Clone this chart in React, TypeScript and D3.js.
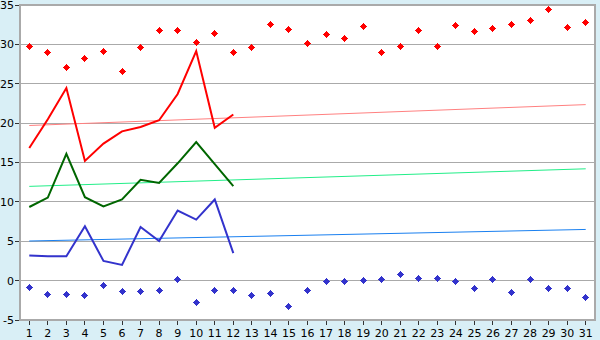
import React from "react";
import * as d3 from "d3";

const days = d3.range(1, 32);
const maxPoints = [29.7, 28.95, 27.05, 28.2, 29.1, 26.5, 29.6, 31.75, 31.75, 30.2, 31.35, 28.95, 29.6, 32.5, 31.9, 30.1, 31.2, 30.7, 32.25, 28.95, 29.7, 31.75, 29.7, 32.4, 31.6, 32.0, 32.5, 33.0, 34.4, 32.1, 32.75];
const minPoints = [-0.9, -1.78, -1.78, -1.9, -0.63, -1.4, -1.4, -1.27, 0.13, -2.8, -1.27, -1.27, -1.9, -1.65, -3.3, -1.27, -0.13, -0.13, 0, 0.13, 0.76, 0.25, 0.25, -0.13, -1.02, 0.13, -1.52, 0.13, -1.02, -1.02, -2.16];
const maxLine = [16.85, 20.5, 24.46, 15.2, 17.4, 18.96, 19.5, 20.36, 23.7, 29.15, 19.4, 21.1];
const meanLine = [9.35, 10.54, 16.1, 10.6, 9.43, 10.3, 12.8, 12.4, 14.9, 17.6, 14.8, 12.0];
const minLine = [3.2, 3.08, 3.1, 6.9, 2.5, 2.0, 6.8, 5.03, 8.9, 7.75, 10.3, 3.5];
const maxTrend = [19.7, 22.35];
const meanTrend = [11.97, 14.2];
const minTrend = [5.03, 6.5];
const yTicks = [-5, 0, 5, 10, 15, 20, 25, 30, 35];

const W = 600, H = 340;
const L = 20, R = 595, T = 5, B = 320;

const markerPath =
  "M-0.5,-3.5L0.5,-3.5L0.5,-1.5L1.5,-1.5L1.5,-0.5L3.5,-0.5L3.5,0.5L1.5,0.5L1.5,1.5L0.5,1.5L0.5,3.5L-0.5,3.5L-0.5,1.5L-1.5,1.5L-1.5,0.5L-3.5,0.5L-3.5,-0.5L-1.5,-0.5L-1.5,-1.5L-0.5,-1.5Z" +
  "M-1.5,-2.5L1.5,-2.5L1.5,2.5L-1.5,2.5Z M-2.5,-1.5L2.5,-1.5L2.5,1.5L-2.5,1.5Z";

export default function App() {
  const band = d3.scaleBand<number>().domain(days).range([L, R]);
  const x = (d: number) => (band(d) as number) + band.bandwidth() / 2;
  const y = d3.scaleLinear().domain([-5, 35]).range([B, T]);
  const line = d3.line<number>().x((_, i) => x(i + 1)).y((v) => y(v));
  const trend = (t: number[]) => `M${x(1)},${y(t[0])}L${x(31)},${y(t[1])}`;
  const font = "DejaVu Sans, Verdana, sans-serif";
  const px = (v: number) => Math.floor(v) + 0.5;
  return (
    <svg width={W} height={H} style={{ position: "absolute", left: 0, top: 0 }}>
      <rect x={0} y={0} width={W} height={H} fill="#d9eff6" />
      <rect x={L} y={T} width={R - L} height={B - T} fill="#ffffff" />
      {yTicks.map((t) => (
        <g key={t}>
          <line x1={L} x2={R} y1={y(t)} y2={y(t)} stroke="#aaaaaa" strokeWidth={1} shapeRendering="crispEdges" />
          <line x1={L - 5} x2={L} y1={y(t)} y2={y(t)} stroke="#333" strokeWidth={1} shapeRendering="crispEdges" />
          <text x={L - 6} y={y(t)} dy="0.36em" textAnchor="end" fontFamily={font} fontSize={11} fill="#000">{t}</text>
        </g>
      ))}
      {days.map((d) => (
        <g key={d}>
          <line x1={x(d)} x2={x(d)} y1={B} y2={B + 5} stroke="#333" strokeWidth={1} shapeRendering="crispEdges" />
          <text x={x(d)} y={337} textAnchor="middle" fontFamily={font} fontSize={11} fill="#000">{d}</text>
        </g>
      ))}
      <rect x={L} y={T} width={R - L} height={B - T} fill="none" stroke="#aaaaaa" strokeWidth={1.5} shapeRendering="crispEdges" />
      <path d={trend(maxTrend)} stroke="#ff8080" strokeWidth={1} fill="none" />
      <path d={trend(meanTrend)} stroke="#22ee88" strokeWidth={1} fill="none" />
      <path d={trend(minTrend)} stroke="#1a80f0" strokeWidth={1} fill="none" />
      <path d={line(maxLine) as string} stroke="#ff0000" strokeWidth={2} fill="none" />
      <path d={line(meanLine) as string} stroke="#006600" strokeWidth={2} fill="none" />
      <path d={line(minLine) as string} stroke="#3333cc" strokeWidth={2} fill="none" />
      {maxPoints.map((v, i) => (
        <path key={"mx" + i} d={markerPath} fillRule="nonzero" transform={`translate(${px(x(i + 1))},${px(y(v))})`} fill="#ff0000" shapeRendering="crispEdges" />
      ))}
      {minPoints.map((v, i) => (
        <path key={"mn" + i} d={markerPath} fillRule="nonzero" transform={`translate(${px(x(i + 1))},${px(y(v))})`} fill="#3333cc" shapeRendering="crispEdges" />
      ))}
    </svg>
  );
}
